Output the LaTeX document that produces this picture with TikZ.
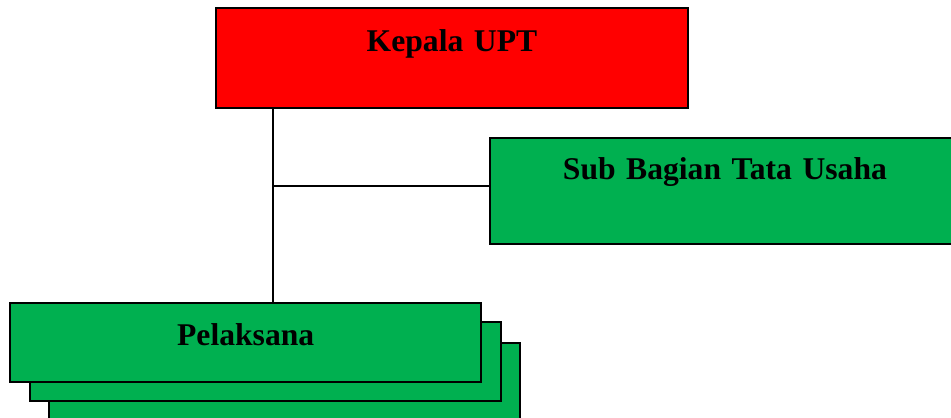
\documentclass[tikz,border=0pt]{standalone}
\usepackage{fontspec}
\setmainfont{Liberation Serif}
\usetikzlibrary{positioning,calc}
\definecolor{upred}{HTML}{FF0000}
\definecolor{upgreen}{HTML}{00B050}
\tikzset{
  unit/.style={rectangle, draw=black, line width=1.1pt, inner sep=0pt, outer sep=0pt,
    align=center, anchor=north west, font=\fontsize{18}{22}\selectfont\bfseries},
  headbox/.style={unit, fill=upred, text width=9.44cm, text height=0.88cm, text depth=1.12cm},
  staffbox/.style={unit, fill=upgreen, text width=9.4cm, text height=0.84cm, text depth=1.28cm},
  crewbox/.style={unit, fill=upgreen, text width=9.43cm, text height=0.86cm, text depth=0.72cm},
  link/.style={draw=black, line width=0.8pt},
}
\begin{document}
\begin{tikzpicture}[x=0.02cm, y=-0.02cm]
  \useasboundingbox (0,0) rectangle (951,418);
  \clip (0,0) rectangle (951,418);
  \fill[white] (0,0) rectangle (951,418);
  % top
  \node[headbox] (kepala) at (216,8) {Kepala UPT};
  \node[staffbox] (tu) at (490,138) {Sub Bagian Tata Usaha};
  % stacked executors
  \node[crewbox] (pel3) at (49,343) {};
  \node[crewbox] (pel2) at (30,322) {};
  \node[crewbox] (pel1) at (10,303) {Pelaksana};
  % lines
  \coordinate (joint) at (273,186);
  \draw[link] (kepala.south -| joint) -- (pel1.north -| joint);
  \draw[link] (joint) -- (joint -| tu.west);
\end{tikzpicture}
\end{document}
